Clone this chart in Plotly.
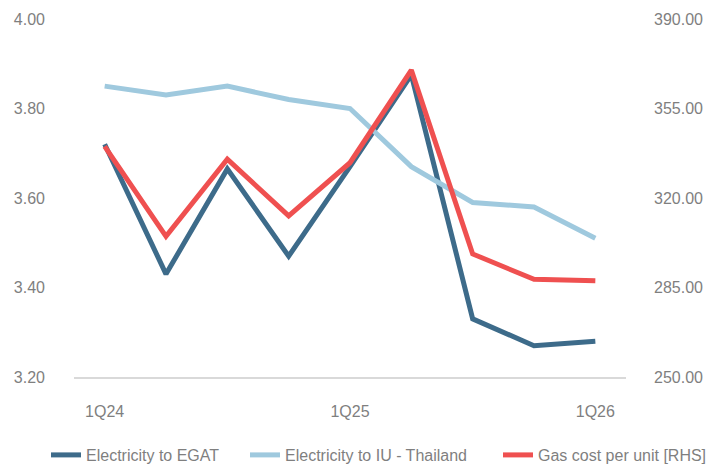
import plotly.graph_objects as go

quarters = ["1Q24", "2Q24", "3Q24", "4Q24", "1Q25", "2Q25", "3Q25", "4Q25", "1Q26"]
egat = [3.72, 3.43, 3.665, 3.47, 3.67, 3.875, 3.33, 3.27, 3.28]
iu_thailand = [3.85, 3.83, 3.85, 3.82, 3.80, 3.67, 3.59, 3.58, 3.51]
gas_cost = [340.2, 305.0, 335.2, 313.0, 333.8, 370.0, 298.1, 288.2, 287.6]

x_tick_labels = ["1Q24", "1Q25", "1Q26"]
left_ticks = [3.2, 3.4, 3.6, 3.8, 4.0]
right_ticks = [250, 285, 320, 355, 390]

W, H = 721, 467
grey = "#7F7F7F"
family = "Liberation Sans, Arial, sans-serif"
font = dict(family=family, size=16, color=grey)

fig = go.Figure()
fig.add_trace(go.Scatter(x=quarters, y=egat, name="Electricity to EGAT", mode="lines",
                         line=dict(color="#3D6B8A", width=5), legend="legend"))
fig.add_trace(go.Scatter(x=quarters, y=iu_thailand, name="Electricity to IU - Thailand", mode="lines",
                         line=dict(color="#9FC9DE", width=5), legend="legend2"))
fig.add_trace(go.Scatter(x=quarters, y=gas_cost, name="Gas cost per unit [RHS]", mode="lines",
                         line=dict(color="#EF5050", width=5), yaxis="y2", legend="legend3"))

def leg(text_left_px):
    return dict(orientation="h", xref="container", yref="container",
                x=(text_left_px - 40) / W, xanchor="left", y=(H - 455) / H, yanchor="middle",
                font=dict(family=family, size=16, color=grey), bgcolor="rgba(0,0,0,0)")

fig.update_layout(
    width=W, height=H,
    margin=dict(l=74, r=95, t=19, b=90, autoexpand=False),
    paper_bgcolor="white", plot_bgcolor="white",
    font=font,
    showlegend=True,
    legend=leg(86),
    legend2=leg(285),
    legend3=leg(538),
    xaxis=dict(type="category", range=[-0.5, 8.5], tickmode="array",
               tickvals=[quarters[0], quarters[4], quarters[8]], ticktext=x_tick_labels,
               showgrid=False, zeroline=False, showline=True, linecolor="#D9D9D9", linewidth=1.5,
               ticks="", ticklabelstandoff=19),
    yaxis=dict(range=[3.2, 4.0], tickvals=left_ticks, tickformat=".2f",
               showgrid=False, zeroline=False, showline=False, ticks="", ticklabelstandoff=28),
    yaxis2=dict(range=[250, 390], tickvals=right_ticks, tickformat=".2f", overlaying="y", side="right",
                showgrid=False, zeroline=False, showline=False, ticks="", ticklabelstandoff=27),
)

fig.write_html("out.html", config={"displayModeBar": False},
               post_script="document.body.style.margin='0px';")
